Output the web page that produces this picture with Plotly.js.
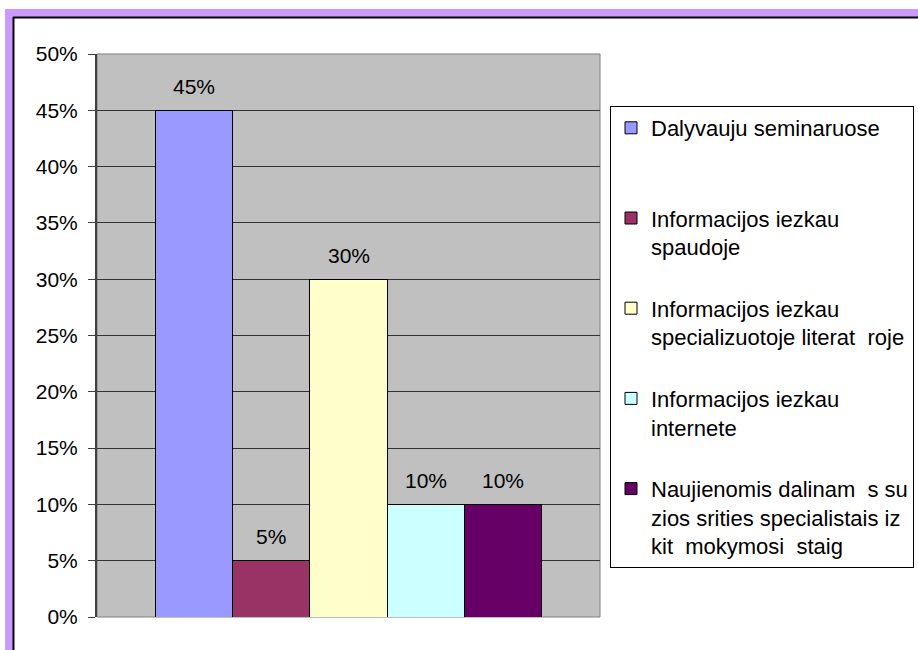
<!DOCTYPE html>
<html>
<head>
<meta charset="utf-8">
<script src="https://cdn.plot.ly/plotly-3.0.1.min.js"></script>
<style>
html,body{margin:0;padding:0;background:#fff;}
#chart{width:918px;height:650px;}
</style>
</head>
<body>
<div id="chart"></div>
<script>
// ---- data ----
const seriesNames = [
  "Dalyvauju seminaruose",
  "Informacijos iezkau spaudoje",
  "Informacijos iezkau specializuotoje literat\u00A0 roje",
  "Informacijos iezkau internete",
  "Naujienomis dalinam\u00A0 s su zios srities specialistais iz kit\u00A0 mokymosi\u00A0 staig"
];
const legendLabels = [
  "Dalyvauju seminaruose<br>\u00A0",
  "Informacijos iezkau<br>spaudoje",
  "Informacijos iezkau<br>specializuotoje literat\u00A0 roje",
  "Informacijos iezkau<br>internete",
  "Naujienomis dalinam\u00A0 s su<br>zios srities specialistais iz<br>kit\u00A0 mokymosi\u00A0 staig"
];
const values = [0.45, 0.05, 0.30, 0.10, 0.10];
const colors = ["#9999FF", "#993366", "#FFFFCC", "#CCFFFF", "#660066"];
const yTickVals = [0, 0.05, 0.10, 0.15, 0.20, 0.25, 0.30, 0.35, 0.40, 0.45, 0.50];

// ---- layout geometry ----
const W = 918, H = 650;
const M = {l: 97, r: 318, t: 54, b: 33, autoexpand: false};
const PW = W - M.l - M.r, PH = H - M.t - M.b;
const px = x => (x - M.l) / PW;
const py = y => (H - M.b - y) / PH;
const FONT = '"Liberation Sans", Arial, sans-serif';

const traces = seriesNames.map((n, i) => ({
  type: 'bar',
  name: legendLabels[i],
  legendgroup: 'g' + i,
  x: [n],
  y: [values[i]],
  marker: {color: colors[i], line: {color: '#000', width: 1}},
  hoverinfo: 'y'
}));

const annotations = seriesNames.map((n, i) => ({
  x: n, y: values[i], xref: 'x', yref: 'y',
  text: Math.round(values[i] * 100) + '%',
  showarrow: false, yshift: 24, yanchor: 'middle',
  font: {family: FONT, size: 21, color: '#000'}
}));

const shapes = [
  // plot area border
  {type: 'rect', xref: 'paper', yref: 'paper', x0: 0, x1: 1, y0: 0, y1: 1,
   line: {color: '#808080', width: 1}, fillcolor: 'rgba(0,0,0,0)', layer: 'below'},
  // purple frame
  {type: 'rect', xref: 'paper', yref: 'paper', x0: px(5), x1: px(940), y0: py(17), y1: py(9),
   line: {width: 0}, fillcolor: '#CC99FF', layer: 'below'},
  {type: 'rect', xref: 'paper', yref: 'paper', x0: px(5), x1: px(13), y0: py(670), y1: py(9),
   line: {width: 0}, fillcolor: '#CC99FF', layer: 'below'},
  {type: 'line', xref: 'paper', yref: 'paper', x0: px(13), x1: px(940), y0: py(17.5), y1: py(17.5),
   line: {color: '#000', width: 2}, layer: 'below'},
  {type: 'line', xref: 'paper', yref: 'paper', x0: px(13.5), x1: px(13.5), y0: py(670), y1: py(17),
   line: {color: '#000', width: 2}, layer: 'below'}
];

const layout = {
  width: W, height: H,
  margin: M,
  paper_bgcolor: '#fff',
  plot_bgcolor: '#C0C0C0',
  font: {family: FONT, size: 21, color: '#000'},
  barmode: 'stack',
  bargap: 0,
  showlegend: true,
  xaxis: {
    type: 'category',
    categoryorder: 'array', categoryarray: seriesNames,
    range: [-1.25, 5.25],
    showticklabels: false, ticks: '', showgrid: false, zeroline: false,
    showline: false, fixedrange: true, automargin: false
  },
  yaxis: {
    range: [0, 0.5],
    tickvals: yTickVals,
    tickformat: '.0%',
    ticks: 'outside', ticklen: 7, tickwidth: 1, tickcolor: '#404040',
    ticklabelstandoff: 6,
    showline: true, linecolor: '#404040', linewidth: 2,
    showgrid: true, gridcolor: '#333', gridwidth: 1,
    zeroline: false, automargin: false,
    tickfont: {family: FONT, size: 21, color: '#000'},
    fixedrange: true
  },
  legend: {
    x: px(610), y: py(106), xanchor: 'left', yanchor: 'top',
    bgcolor: '#fff', bordercolor: '#000', borderwidth: 1,
    font: {family: FONT, size: 22, color: '#000'},
    traceorder: 'grouped', tracegroupgap: 30, valign: 'top'
  },
  annotations: annotations,
  shapes: shapes
};

Plotly.newPlot('chart', traces, layout, {displayModeBar: false, staticPlot: true});
</script>
</body>
</html>
